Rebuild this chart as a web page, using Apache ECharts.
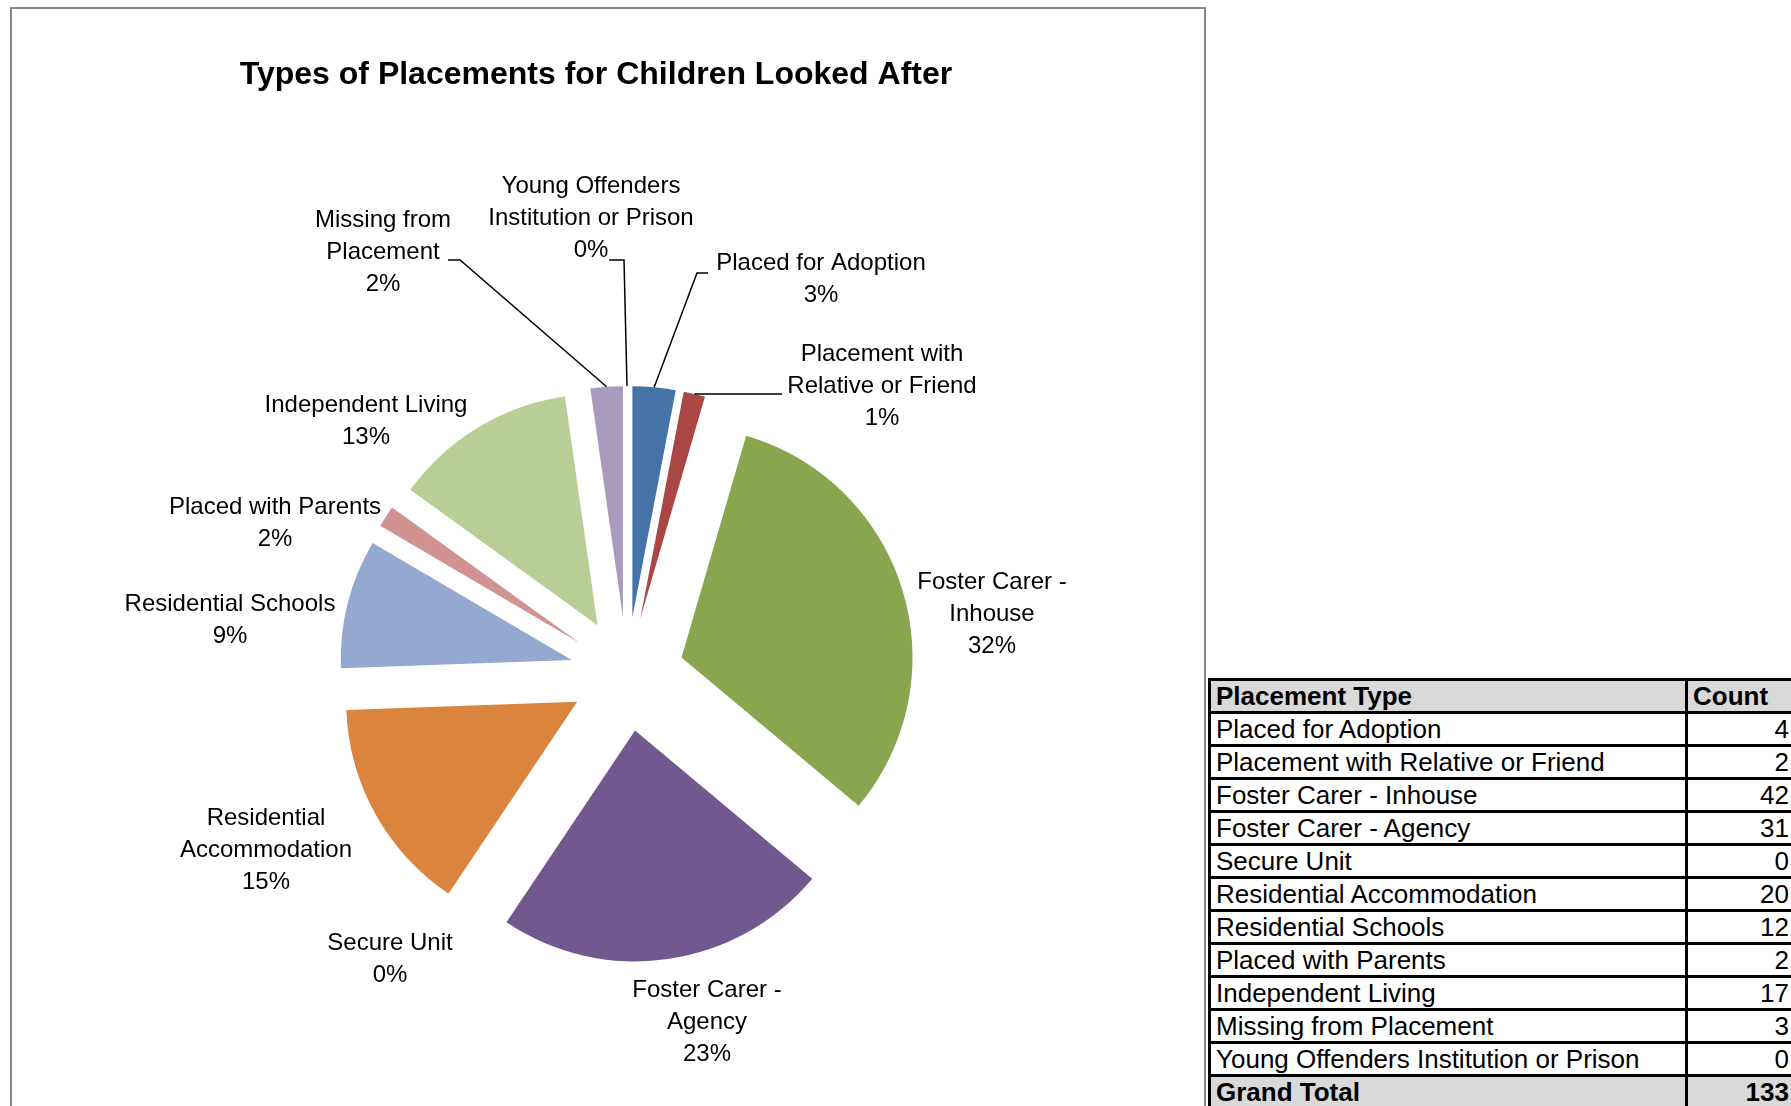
<!DOCTYPE html>
<html>
<head>
<meta charset="utf-8">
<title>Types of Placements for Children Looked After</title>
<script src="https://cdn.jsdelivr.net/npm/echarts@6/dist/echarts.min.js"></script>
<style>
  html, body { margin: 0; padding: 0; background: #fff; width: 1791px; height: 1106px; overflow: hidden; position: relative; }
  #chart { position: absolute; left: 10px; top: 7px; width: 1196px; height: 1130px; border: 2px solid #898989; box-sizing: border-box; }
  #tbl { position: absolute; left: 1208px; top: 678px; width: 585px; border-collapse: collapse; table-layout: fixed;
         font-family: "Liberation Sans", Arial, sans-serif; font-size: 26px; color: #000; }
  #tbl td { border: 3px solid #000; height: 30px; padding: 0 4px 0 5px; line-height: 30px; white-space: nowrap; overflow: hidden; }
  #tbl td.num { text-align: right; }
  #tbl tr.grey td { background: #d9d9d9; font-weight: bold; }
</style>
</head>
<body>
<div id="chart"></div>
<table id="tbl">
  <colgroup><col style="width:477px"><col style="width:108px"></colgroup>
  <tbody id="tbody"></tbody>
</table>
<script>
// data, in the order the slices run clockwise from 12 o'clock
const categories = [
  'Placed for Adoption', 'Placement with Relative or Friend', 'Foster Carer - Inhouse',
  'Foster Carer - Agency', 'Secure Unit', 'Residential Accommodation', 'Residential Schools',
  'Placed with Parents', 'Independent Living', 'Missing from Placement',
  'Young Offenders Institution or Prison'
];
const counts = [4, 2, 42, 31, 0, 20, 12, 2, 17, 3, 0];
const labelNames = [
  'Placed for Adoption', 'Placement with\nRelative or Friend', 'Foster Carer -\nInhouse',
  'Foster Carer -\nAgency', 'Secure Unit', 'Residential\nAccommodation', 'Residential Schools',
  'Placed with Parents', 'Independent Living', 'Missing from\nPlacement',
  'Young Offenders\nInstitution or Prison'
];
const colors = ['#4572a7', '#aa4643', '#89a54e', '#71588f', '#4198af', '#db843d',
                '#93a9cf', '#d19392', '#b9cd96', '#a99bbd', '#92c4d6'];

// layout (px inside the chart box)
const CX = 615, CY = 665, R = 231, OFFSET = 57;
const labelPos = [[809, 270], [870, 377], [980, 605], [695, 1013], [378, 950], [254, 841],
                  [218, 611], [263, 514], [354, 412], [371, 243], [579, 209]];
// leader anchor relative to label centre [dx, dy, elbow]
const leaders = { 0: [-113, -6, -11], 1: [-100, 8, -10], 9: [65, 8, 12], 10: [18, 42, 15] };

const FONT = '"Liberation Sans", Arial, sans-serif';
const TITLE = 'Types of Placements for Children Looked After';
const TITLE_FONT = 'bold 32px ' + FONT;
const TITLE_X = 584;

// percentages rounded so they add up to 100 (ties go to the later slice, like Excel)
function roundedPercents(vals) {
  const total = vals.reduce((a, b) => a + b, 0);
  const raw = vals.map(v => v / total * 100);
  const out = raw.map(Math.floor);
  const rem = raw.map((r, i) => r - out[i]);
  let left = 100 - out.reduce((a, b) => a + b, 0);
  while (left > 0) {
    let k = 0;
    rem.forEach((r, i) => { if (r >= rem[k]) k = i; });
    out[k]++; rem[k] = -1; left--;
  }
  return out;
}
const pct = roundedPercents(counts);

const total = counts.reduce((a, b) => a + b, 0);
let acc = 0;
const midAngles = counts.map(v => {
  const m = (acc + v / 2) / total * 2 * Math.PI;
  acc += v;
  return m;
});

const ctx = document.createElement('canvas').getContext('2d');
ctx.font = TITLE_FONT;
const titleW = ctx.measureText(TITLE).width;

const pieBase = {
  type: 'pie',
  center: [CX, CY],
  radius: R,
  startAngle: 90,
  clockwise: true,
  avoidLabelOverlap: false,
  emphasis: { disabled: true }
};

const chart = echarts.init(document.getElementById('chart'));
chart.setOption({
  backgroundColor: '#fff',
  animation: false,
  title: {
    text: TITLE,
    left: TITLE_X - titleW / 2 - 5,
    top: 45,
    textStyle: { fontFamily: FONT, fontWeight: 'bold', fontSize: 32, color: '#000' }
  },
  series: [
    // the exploded slices
    Object.assign({}, pieBase, {
      selectedMode: 'multiple',
      selectedOffset: OFFSET,
      itemStyle: { borderWidth: 0 },
      label: { show: false },
      labelLine: { show: false },
      data: counts.map((v, i) => ({
        name: categories[i], value: v, selected: true, itemStyle: { color: colors[i] }
      }))
    }),
    // same data again, invisible, carrying the data labels and leader lines
    Object.assign({}, pieBase, {
      silent: true,
      selectedMode: false,
      z: 3,
      itemStyle: { color: 'rgba(0,0,0,0)', borderWidth: 0 },
      label: {
        show: true,
        position: 'outside',
        formatter: p => labelNames[p.dataIndex] + '\n' + pct[p.dataIndex] + '%',
        fontFamily: FONT,
        fontSize: 24,
        lineHeight: 32,
        color: '#000'
      },
      labelLine: { show: false, lineStyle: { color: '#000', width: 1.5 } },
      labelLayout: p => {
        const i = p.dataIndex;
        const [x, y] = labelPos[i];
        const out = { x: x, y: y, align: 'center', verticalAlign: 'middle' };
        const ld = leaders[i];
        if (ld) {
          const m = midAngles[i];
          const p0 = [CX + (R + OFFSET) * Math.sin(m), CY - (R + OFFSET) * Math.cos(m)];
          const a = [x + ld[0], y + ld[1]];
          out.labelLinePoints = [p0, [a[0] + ld[2], a[1]], a];
        }
        return out;
      },
      data: counts.map((v, i) => ({
        name: categories[i], value: v,
        labelLine: { show: leaders[i] !== undefined }
      }))
    })
  ]
});

// table beside the chart
const tbody = document.getElementById('tbody');
function addRow(a, b, cls) {
  const tr = document.createElement('tr');
  if (cls) tr.className = cls;
  const t1 = document.createElement('td'); t1.textContent = a;
  const t2 = document.createElement('td'); t2.textContent = b; t2.className = 'num';
  tr.appendChild(t1); tr.appendChild(t2);
  tbody.appendChild(tr);
}
addRow('Placement Type', 'Count', 'grey');
tbody.lastChild.lastChild.className = '';
categories.forEach((c, i) => addRow(c, counts[i]));
addRow('Grand Total', total, 'grey');
</script>
</body>
</html>
